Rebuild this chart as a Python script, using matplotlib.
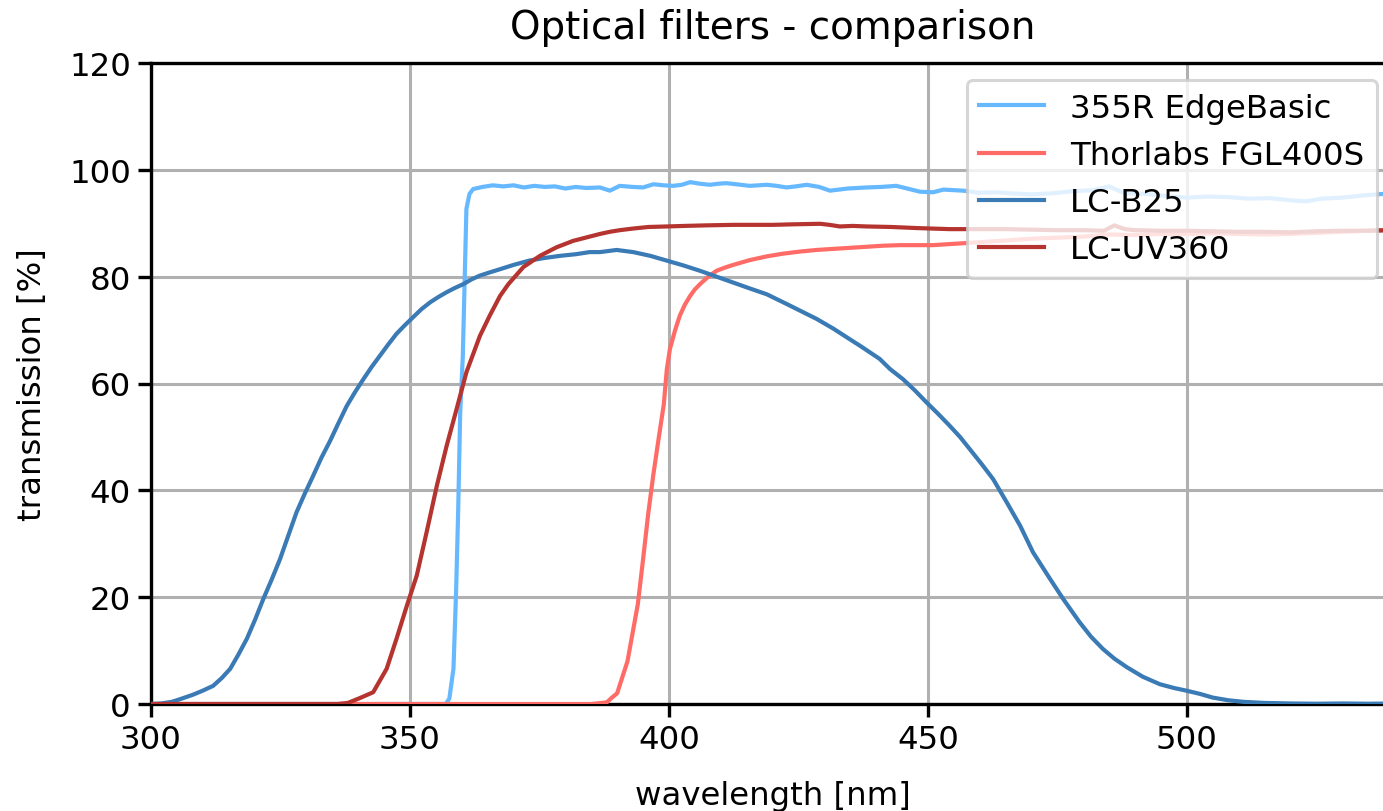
import matplotlib
matplotlib.use("Agg")
import matplotlib.pyplot as plt

# ---- data ----
edge_wl = [300, 350, 356.9, 357.6, 358.4, 358.9, 359.3, 359.7, 360.2, 360.9, 361.5, 362.2, 364, 366, 368,
           370, 372, 374, 376, 378, 380, 382, 384, 386.7, 388.6, 390.5, 393, 395, 397, 399, 400.8,
           402.5, 404.1, 406, 407.9, 409.5, 411.1, 413, 415.6, 418.9, 420.8, 422.7, 424.5, 426.6,
           429, 431.1, 434.5, 438.2, 441, 443.9, 446, 448.5, 451, 453, 456.8, 460, 463, 466, 470,
           474, 478, 482, 485, 488, 492, 496, 500, 504, 508, 512, 516, 520, 523, 526, 530, 534,
           538, 540]
edge_T = [0, 0, 0, 1.0, 6.6, 20.8, 35.8, 54.5, 65.0, 92.7, 95.5, 96.4, 96.8, 97.1, 96.9,
          97.1, 96.7, 97.0, 96.8, 96.9, 96.5, 96.8, 96.6, 96.7, 96.1, 97.0, 96.8, 96.7, 97.3,
          97.1, 97.0, 97.2, 97.7, 97.4, 97.2, 97.4, 97.5, 97.3, 97.0, 97.2, 97.0, 96.7, 96.9,
          97.2, 96.8, 96.1, 96.5, 96.7, 96.8, 97.0, 96.5, 95.9, 95.8, 96.3, 96.1, 95.7, 95.8,
          95.6, 95.4, 95.6, 96.0, 96.2, 96.9, 95.6, 95.5, 95.1, 94.8, 95.0, 94.9, 94.6, 94.7,
          94.3, 94.1, 94.6, 94.8, 95.2, 95.5, 95.6]

fgl_wl = [300, 385, 388, 389, 390, 392, 394, 395, 396, 397, 398, 399, 399.6, 400.2, 401.2, 402.1,
          403.1, 404.1, 405, 406.0, 407.6, 409.2, 410.8, 412.4, 415.6, 418.9, 422, 425.3, 428.5,
          431.7, 435, 438.2, 441.4, 444.6, 447.8, 451.0, 454.2, 457.5, 460.7, 463.9, 467, 470,
          475, 480, 485, 490, 495, 500, 505, 510, 515, 520, 525, 530, 535, 540]
fgl_T = [0, 0, 0.3, 1.2, 2.0, 8.0, 18.7, 27.0, 35.6, 43.0, 49.6, 56.0, 62.7, 66.5, 70.0, 72.7,
         74.8, 76.4, 77.6, 78.6, 80.0, 81.1, 81.7, 82.2, 83.1, 83.8, 84.3, 84.7, 85.0,
         85.2, 85.4, 85.6, 85.8, 85.9, 85.9, 85.9, 86.1, 86.3, 86.5, 86.7, 86.9, 87.1,
         87.3, 87.5, 87.9, 87.8, 88.0, 88.0, 88.1, 88.0, 87.9, 88.0, 88.2, 88.4, 88.6, 88.8]

b25_wl = [300, 302, 304, 305.6, 308, 310, 312.0, 313.7, 315.3, 316.9, 318.5, 320.1, 321.7, 323.3,
          324.9, 326.5, 328.1, 329.7, 331.3, 332.9, 334.6, 336.2, 337.8, 339.4, 341.0, 342.6, 344.2,
          345.8, 347.4, 349.0, 350.6, 352.2, 353.9, 355.5, 357.1, 358.7, 360.3, 361.9, 363.5, 365.4,
          367.4, 370, 373, 376, 379, 382, 384.7, 386.7, 389.9, 393.1, 396.4, 399.6, 402.8, 406.0,
          409.2, 412.4, 415.6, 418.9, 422.7, 425.6, 428.5, 431.7, 434.9, 437, 440.7, 442.7, 445.2,
          447.5, 449.7, 452, 454.2, 456.2, 458.1, 460.4, 462.6, 465.2, 467.8, 470.3, 473.6, 476.1,
          479.3, 481.5, 483.8, 486, 488.4, 491.5, 494.8, 497.5, 499.9, 502.5, 505, 508, 511, 515,
          520, 525, 530, 535, 540]
b25_T = [0, 0.1, 0.4, 0.9, 1.7, 2.5, 3.4, 4.9, 6.6, 9.3, 12.2, 15.8, 19.7, 23.3,
         27.1, 31.5, 35.9, 39.4, 42.7, 46.1, 49.3, 52.6, 55.8, 58.4, 60.8, 63.1, 65.2,
         67.3, 69.3, 70.9, 72.4, 73.9, 75.2, 76.2, 77.1, 77.9, 78.6, 79.5, 80.2, 80.8,
         81.4, 82.2, 83.0, 83.5, 83.9, 84.2, 84.6, 84.6, 85.0, 84.6, 83.9, 83.0, 82.1, 81.1,
         80.0, 78.9, 77.8, 76.7, 74.9, 73.5, 72.1, 70.3, 68.3, 67.0, 64.6, 62.7, 60.8,
         58.7, 56.5, 54.3, 52.1, 50.0, 47.7, 44.9, 42.1, 37.8, 33.4, 28.4, 23.4, 19.7,
         15.3, 12.6, 10.3, 8.5, 6.9, 5.1, 3.7, 3.0, 2.5, 1.9, 1.2, 0.7, 0.4, 0.2,
         0.1, 0.05, 0.1, 0.05, 0.1]

uv_wl = [300, 336, 338, 340.3, 342.9, 345.5, 347.4, 349.4, 351.3, 353.2, 355.2, 357.1, 359.0, 360.9,
         363.5, 365.4, 367.4, 369, 371.9, 375.1, 378.3, 381.5, 384.7, 386.7, 388.6, 390.5, 393,
         396, 399.6, 403, 407, 412.4, 416, 420, 424, 429.2, 431, 433.0, 435.5, 438.2, 443, 447.8,
         454.2, 460, 465, 470, 475, 480, 484, 486, 488, 490, 495, 500, 505, 510, 515, 520, 525,
         530, 535, 540]
uv_T = [0, 0, 0.2, 1.1, 2.2, 6.6, 12.2, 18.4, 24.0, 32.1, 40.9, 48.4, 55.2, 62.1,
        68.9, 72.7, 76.4, 78.6, 81.8, 83.9, 85.5, 86.7, 87.5, 88.0, 88.4, 88.7, 89.0,
        89.3, 89.4, 89.5, 89.6, 89.7, 89.7, 89.7, 89.8, 89.9, 89.7, 89.4, 89.5, 89.4, 89.3, 89.1,
        88.9, 88.9, 88.9, 88.8, 88.7, 88.7, 88.6, 89.6, 88.9, 88.7, 88.6, 88.6, 88.5, 88.4,
        88.4, 88.3, 88.5, 88.6, 88.6, 88.7]

series_names = ["355R EdgeBasic", "Thorlabs FGL400S", "LC-B25", "LC-UV360"]
series_colors = ["#66b8ff", "#ff6b66", "#3a7ab5", "#b5342f"]

x_ticks = [300, 350, 400, 450, 500]
y_ticks = [0, 20, 40, 60, 80, 100, 120]

# ---- figure ----
W, H = 1383, 812
fig = plt.figure(figsize=(W / 100, H / 100), dpi=100)
left = 151 / W
bottom = (H - 705) / H
height = (705 - 64) / H
width = (1394 - 151) / W
ax = fig.add_axes([left, bottom, width, height])

fs = 23.3
data = [(edge_wl, edge_T), (fgl_wl, fgl_T), (b25_wl, b25_T), (uv_wl, uv_T)]
for (xs, ys), name, col in zip(data, series_names, series_colors):
    ax.plot(xs, ys, color=col, lw=3.0, label=name, zorder=3)

ax.set_xlim(300, 540)
ax.set_ylim(0, 120)
ax.set_xticks(x_ticks)
ax.set_yticks(y_ticks)
ax.grid(True, color="#b0b0b0", lw=2.2, zorder=0)
ax.set_axisbelow(True)
for s in ax.spines.values():
    s.set_linewidth(2.4)
ax.tick_params(labelsize=fs, length=9.4, width=2.4, pad=5)

ax.set_title("Optical filters - comparison", fontsize=28, pad=18)
ax.set_xlabel("wavelength [nm]", fontsize=fs, labelpad=18)
ax.set_ylabel("transmission [%]", fontsize=fs, labelpad=15)

leg = ax.legend(loc="upper right", fontsize=fs, framealpha=0.8, borderaxespad=0.52,
                handlelength=2.0, labelspacing=0.5)
leg.get_frame().set_linewidth(2.2)

fig.savefig("out.png", dpi=100)
